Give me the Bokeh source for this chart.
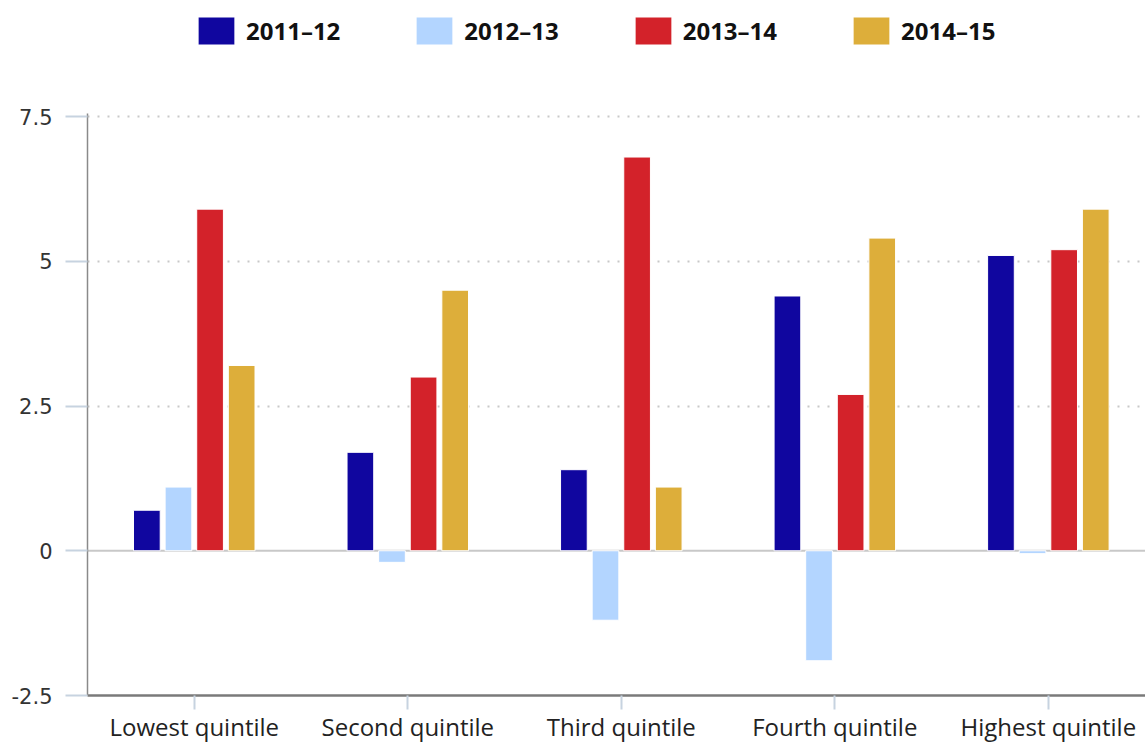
import numpy as np
from bokeh.plotting import figure
from bokeh.layouts import column
from bokeh.models import Range1d, FixedTicker, Span, Legend, LegendItem
from bokeh.embed import file_html
from bokeh.resources import INLINE

categories = ["Lowest quintile", "Second quintile", "Third quintile", "Fourth quintile", "Highest quintile"]
series = ["2011–12", "2012–13", "2013–14", "2014–15"]
v2011_12 = [0.7, 1.7, 1.4, 4.4, 5.1]
v2012_13 = [1.1, -0.2, -1.2, -1.9, -0.05]
v2013_14 = [5.9, 3.0, 6.8, 2.7, 5.2]
v2014_15 = [3.2, 4.5, 1.1, 5.4, 5.9]
values = [v2011_12, v2012_13, v2013_14, v2014_15]
colors = ["#10069f", "#b3d5ff", "#d3222a", "#ddae3a"]
y_ticks = [-2.5, 0, 2.5, 5, 7.5]
y_tick_labels = ["-2.5", "0", "2.5", "5", "7.5"]

FONT = "Open Sans"

centers = np.arange(len(categories)) + 0.5
offsets = [-0.222, -0.074, 0.074, 0.222]

# ---- legend strip (top) ----
lg = figure(width=1145, height=100, output_backend="svg", toolbar_location=None,
            x_range=Range1d(0, 1), y_range=Range1d(0, 1),
            x_axis_location=None, y_axis_location=None, min_border=0)
lg.outline_line_color = None
lg.grid.visible = False

# ---- main chart ----
p = figure(width=1145, height=646, output_backend="svg", toolbar_location=None,
           x_range=Range1d(0, 4.955), y_range=Range1d(-2.5, 7.552),
           min_border_left=87, min_border_right=0, min_border_top=13, min_border_bottom=51)
p.outline_line_color = None

p.add_layout(Span(location=0, dimension="width", line_color="#c8c8c8", line_width=2, level="underlay"))

items = []
for name, vals, col, off in zip(series, values, colors, offsets):
    p.vbar(x=centers + off, top=vals, bottom=0, width=0.125, fill_color=col,
           line_color="white", line_width=1)
    r_leg = lg.vbar(x=centers + off, top=vals, bottom=0, width=0.125, fill_color=col,
                    line_color="white", line_width=1, visible=False)
    items.append(LegendItem(label=name, renderers=[r_leg]))

p.xgrid.visible = False
p.ygrid.ticker = FixedTicker(ticks=[2.5, 5, 7.5])
p.ygrid.grid_line_color = "#c8c8c8"
p.ygrid.grid_line_dash = "2 8"
p.ygrid.grid_line_width = 2

xa = p.xaxis[0]
xa.ticker = FixedTicker(ticks=list(centers))
xa.major_label_overrides = {float(c): lab for c, lab in zip(centers, categories)}
xa.axis_line_color = "#7a7a7a"
xa.axis_line_width = 2.5
xa.major_tick_in = 0
xa.major_tick_out = 14
xa.major_tick_line_color = "#c7d3e0"
xa.major_tick_line_width = 2
xa.minor_tick_line_color = None
xa.major_label_standoff = 0
xa.major_label_text_font = FONT
xa.major_label_text_font_size = "24px"
xa.major_label_text_color = "#222222"

ya = p.yaxis[0]
ya.ticker = FixedTicker(ticks=y_ticks)
ya.major_label_overrides = {float(t): lab for t, lab in zip(y_ticks, y_tick_labels)}
ya.axis_line_color = "#8a8a8a"
ya.axis_line_width = 1.5
ya.major_tick_in = 0
ya.major_tick_out = 22
ya.major_tick_line_color = "#c7d3e0"
ya.major_tick_line_width = 2
ya.minor_tick_line_color = None
ya.major_label_standoff = 13
ya.major_label_text_font = "DejaVu Sans"
ya.major_label_text_font_size = "21px"
ya.major_label_text_color = "#333333"

legend = Legend(items=items, orientation="horizontal", location=(106, 52),
                glyph_width=46, glyph_height=35, label_standoff=7, spacing=71,
                label_text_font=FONT, label_text_font_style="bold",
                label_text_font_size="24px", label_text_color="#111111",
                border_line_color=None, background_fill_alpha=0, padding=0, margin=0)
lg.add_layout(legend, "center")

layout = column(lg, p, spacing=0)
open("out.html", "w").write(file_html(layout, INLINE))
